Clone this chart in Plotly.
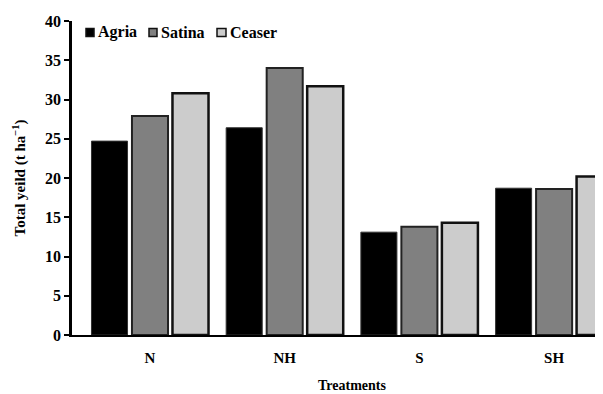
import plotly.graph_objects as go

categories = ["N", "NH", "S", "SH"]
agria = [24.7, 26.4, 13.1, 18.7]
satina = [27.9, 34.0, 13.8, 18.6]
ceaser = [30.8, 31.7, 14.3, 20.2]
series_names = ["Agria", "Satina", "Ceaser"]
y_ticks = [0, 5, 10, 15, 20, 25, 30, 35, 40]

FONT = "Liberation Serif, Times New Roman, Times, serif"
fills = ["#000000", "#808080", "#cccccc"]
lines = ["#333333", "#222222", "#111111"]
lwidths = [1, 2, 2.5]

fig = go.Figure()
for name, vals, fc, lc, lw in zip(series_names, [agria, satina, ceaser], fills, lines, lwidths):
    fig.add_trace(go.Bar(x=categories, y=vals, name=name,
                         marker=dict(color=fc, line=dict(color=lc, width=lw)),
                         showlegend=False))

OFF = 8  # page body margin
W, H = 603 - OFF, 394 - OFF
# screen-space plot box: x 72..603, y 21..335
L, R, T, B = 72 - OFF, 0, 21 - OFF, 394 - 335
pw, ph = W - L - R, H - T - B

def px_x(p):
    return (p - OFF - L) / pw

def px_y(p):
    return (H - B - (p - OFF)) / ph

# custom compact legend
leg_sq = [(86, 94), (149, 157), (217, 226)]
leg_txt = [96, 159, 228]
for (x0, x1), tx, name, fc in zip(leg_sq, leg_txt, series_names, fills):
    fig.add_shape(type="rect", xref="paper", yref="paper",
                  x0=px_x(x0), x1=px_x(x1), y0=px_y(36.5), y1=px_y(28.5),
                  fillcolor=fc, line=dict(color="#111111", width=1.5))
    fig.add_annotation(xref="paper", yref="paper", x=px_x(tx), y=px_y(32),
                       text="<b>%s</b>" % name, showarrow=False, xanchor="left", yanchor="middle",
                       font=dict(family=FONT, size=16, color="black"))

# x axis title centred under the categories
fig.add_annotation(xref="x", yref="paper", x=1.5, y=px_y(385),
                   text="<b>Treatments</b>", showarrow=False, xanchor="center", yanchor="middle",
                   font=dict(family=FONT, size=14, color="black"))

fig.update_layout(
    width=W, height=H,
    margin=dict(l=L, r=R, t=T, b=B, pad=0),
    paper_bgcolor="white", plot_bgcolor="white",
    barmode="group", bargap=0.098, bargroupgap=0.11,
    font=dict(family=FONT, size=15, color="black"),
)
fig.update_xaxes(range=[-0.579, 3.363], showline=True, linecolor="black", linewidth=2,
                 ticks="", showgrid=False, zeroline=False,
                 tickvals=list(range(len(categories))),
                 ticktext=["<b>%s</b>" % c for c in categories],
                 ticklabelstandoff=8,
                 tickfont=dict(family=FONT, size=15, color="black"))
fig.update_yaxes(range=[0, 40], tickvals=y_ticks, ticktext=["<b>%d</b>" % v for v in y_ticks],
                 showline=True, linecolor="black", linewidth=2.5,
                 ticks="outside", ticklen=5, tickwidth=2, tickcolor="black",
                 showgrid=False, zeroline=False,
                 tickfont=dict(family=FONT, size=16, color="black"),
                 title=dict(text="<b>Total yeild (t ha<sup>−1</sup>)</b>", standoff=16,
                            font=dict(family=FONT, size=15, color="black")))

fig.write_html("out.html")
